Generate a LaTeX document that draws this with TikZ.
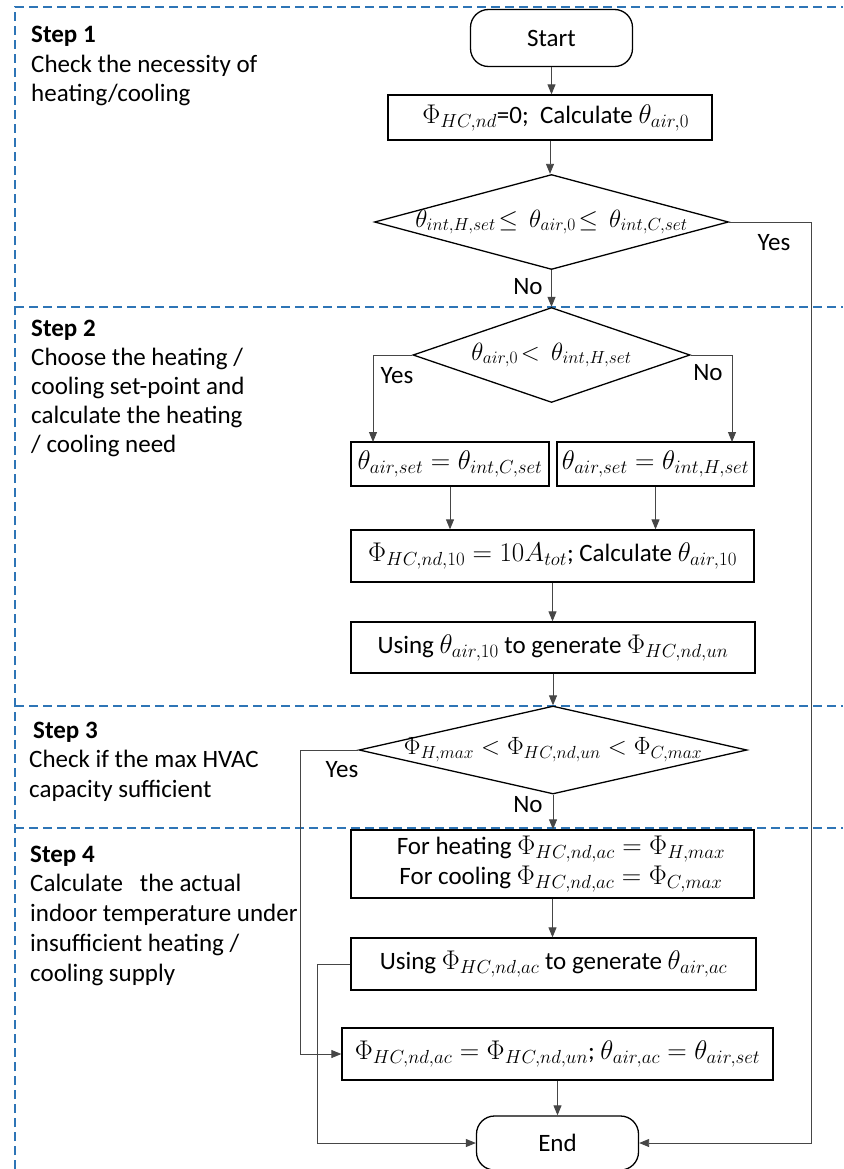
\RequirePackage{fix-cm}
\documentclass[tikz,border=0pt]{standalone}
\usepackage[no-math]{fontspec}
\setmainfont{Carlito}
\usetikzlibrary{shapes.geometric,arrows.meta}
\definecolor{dashblue}{RGB}{46,117,182}
\definecolor{linegray}{RGB}{70,70,70}
\newcommand{\mth}[1]{{\fontsize{27}{30}\selectfont$#1$}}
\begin{document}
\begin{tikzpicture}[x=1pt,y=-1pt,
  every node/.style={font=\fontsize{25}{29.5}\selectfont},
  box/.style={draw=black,line width=1.3pt,rectangle,inner sep=0pt,align=center},
  term/.style={draw=black,line width=1.3pt,rectangle,rounded corners=18pt,inner sep=0pt},
  dec/.style={draw=black,line width=1.3pt,diamond,inner sep=0pt},
  conn/.style={draw=linegray,line width=0.9pt,-{Triangle[length=10pt,width=8pt]}},
  sep/.style={draw=dashblue,line width=1.3pt,dash pattern=on 9pt off 5pt},
  lbl/.style={inner sep=0pt},
  steptext/.style={inner sep=0pt,anchor=base west,align=left}]
\useasboundingbox (0,0) rectangle (843,1169);
\fill[white] (0,0) rectangle (843,1169);

% dashed step frames
\draw[sep] (15,1169) -- (15,7) -- (843,7);
\draw[sep] (15,307) -- (843,307);
\draw[sep] (15,706) -- (843,706);
\draw[sep] (15,828) -- (843,828);

% step descriptions (anchor = baseline of the last line)
\node[steptext] (s1) at (31,102) {\textbf{Step 1}\\Check the necessity of\\heating/cooling};
\node[steptext,font=\fontsize{25}{29}\selectfont] (s2) at (31,452) {\textbf{Step 2}\\Choose the heating /\\cooling set-point and\\calculate the heating\\/ cooling need};
\node[steptext] (s3) at (29,797) {\hspace*{4pt}\textbf{Step 3}\\Check if the max HVAC\\capacity sufficient};
\node[steptext,font=\fontsize{25}{29.7}\selectfont] (s4) at (30,981) {\textbf{Step 4}\\Calculate\ \ \ the actual\\indoor temperature under\\insufficient heating /\\cooling supply};

% flow nodes
\node[term,minimum width=162pt,minimum height=57pt] (start) at (551.5,38) {Start};
\node[box,minimum width=324pt,minimum height=45pt] (b1) at (550,117.5) {\ \ \mth{\Phi_{HC,nd}}=0;\ \ Calculate \mth{\theta_{air,0}}};
\node[dec,minimum width=354pt,minimum height=95pt,
  label={center:$\theta_{int,H,set}\!\leq\,\theta_{air,0}\!\leq\,\theta_{int,C,set}$}] (d1) at (551.5,222) {};
\node[dec,minimum width=277pt,minimum height=95pt,
  label={center:$\theta_{air,0}\!<\,\theta_{int,H,set}$}] (d2) at (551.5,355) {};
\node[box,minimum width=198pt,minimum height=44pt] (b2l) at (450,464) {\mth{\theta_{air,set}=\theta_{int,C,set}}};
\node[box,minimum width=197pt,minimum height=44pt] (b2r) at (655.5,464) {\mth{\theta_{air,set}=\theta_{int,H,set}}};
\node[box,minimum width=403pt,minimum height=52pt] (b3) at (552.5,556) {\mth{\Phi_{HC,nd,10}=10A_{tot}}; Calculate \mth{\theta_{air,10}}};
\node[box,minimum width=404pt,minimum height=51pt] (b4) at (553,647.5) {Using \mth{\theta_{air,10}} to generate \mth{\Phi_{HC,nd,un}}};
\node[dec,minimum width=388pt,minimum height=88pt,
  label={center:$\Phi_{H,max}<\Phi_{HC,nd,un}<\Phi_{C,max}$}] (d3) at (553,750) {};
\node[box,minimum width=403pt,minimum height=68pt,font=\fontsize{25}{30}\selectfont] (b5) at (552.5,864) {\ \ \ For heating \mth{\Phi_{HC,nd,ac}=\Phi_{H,max}}\\\ \ \ For cooling \mth{\Phi_{HC,nd,ac}=\Phi_{C,max}}};
\node[box,minimum width=405pt,minimum height=52pt] (b6) at (553.5,964) {Using \mth{\Phi_{HC,nd,ac}} to generate \mth{\theta_{air,ac}}};
\node[box,minimum width=431pt,minimum height=52pt] (b7) at (557.5,1054) {\mth{\Phi_{HC,nd,ac}=\Phi_{HC,nd,un}}; \mth{\theta_{air,ac}=\theta_{air,set}}};
\node[term,minimum width=162pt,minimum height=54pt] (end) at (557.5,1143) {End};

% corner coordinates
\coordinate (rc) at (811,222);
\coordinate (yl) at (373,442);
\coordinate (nr) at (732,442);
\coordinate (ly) at (300,750);
\coordinate (lx) at (317,964);

% connectors
\draw[conn] (start.south) -- (start.south |- b1.north);
\draw[conn] (b1.south) -- (b1.south |- d1.north);
\draw[conn] (d1.east) -- (rc) |- (end.east);
\draw[conn] (d1.south) -- (d2.north);
\draw[conn] (d2.west) -| (yl);
\draw[conn] (d2.east) -| (nr);
\draw[conn] (b2l.south) -- (b2l.south |- b3.north);
\draw[conn] (b2r.south) -- (b2r.south |- b3.north);
\draw[conn] (b3.south) -- (b3.south |- b4.north);
\draw[conn] (b4.south) -- (b4.south |- d3.north);
\draw[conn] (d3.west) -- (ly) |- (b7.west);
\draw[conn] (d3.south) -- (d3.south |- b5.north);
\draw[conn] (b5.south) -- (b5.south |- b6.north);
\draw[conn] (b6.west) -- (lx) |- (end.west);
\draw[conn] (b7.south) -- (b7.south |- end.north);

% branch labels
\node[lbl] (y1) at (774,243) {Yes};
\node[lbl] (n1) at (528,287) {No};
\node[lbl] (y2) at (397,376) {Yes};
\node[lbl] (n2) at (708,373) {No};
\node[lbl] (y3) at (342,770) {Yes};
\node[lbl] (n3) at (528,805) {No};
\end{tikzpicture}
\end{document}
